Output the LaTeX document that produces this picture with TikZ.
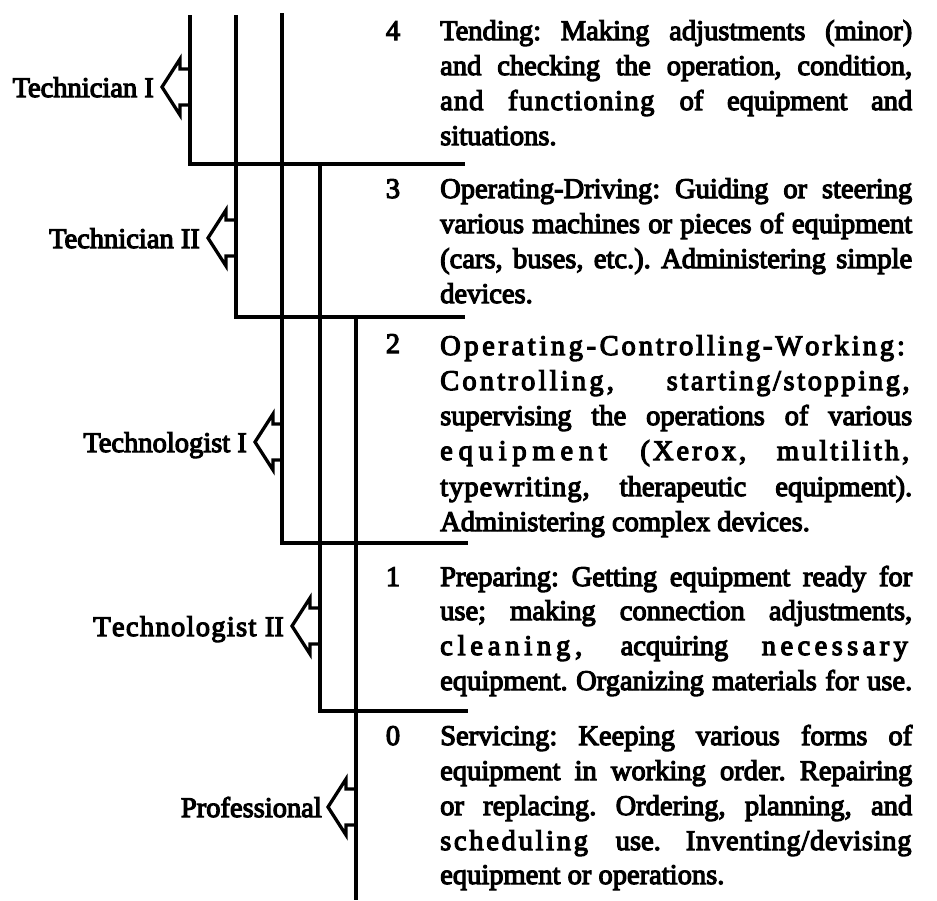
\documentclass[tikz,border=0pt]{standalone}
\usepackage{fontspec}
\setmainfont{Liberation Serif}[UprightFeatures={FakeBold=4}]
\frenchspacing
\newcommand\jl[1]{\makebox[472pt][s]{#1}}
\makeatletter
\def\ls@loop#1{\ifx#1\relax\else#1\kern\ls@amt\expandafter\ls@loop\fi}
\newcommand\lsp[2]{{\def\ls@amt{#1}\ls@loop#2\relax}}
\makeatother
\tikzset{
  rule/.style={line width=3.3pt, line cap=rect, line join=miter},
  txt/.style={font=\fontsize{28.5pt}{35pt}\selectfont, inner sep=0pt, anchor=base west},
  num/.style={font=\fontsize{28.5pt}{35pt}\selectfont, inner sep=0pt, anchor=base},
  lbl/.style={font=\fontsize{28.5pt}{35pt}\selectfont, inner sep=0pt, anchor=base east},
  pics/rolearrow/.style={code={
    \draw[rule, line cap=butt] (0,-18) -- (-10,-18) -- (-10,-28) -- (-28,0) -- (-10,28) -- (-10,18) -- (0,18);
  }}
}
\begin{document}
\begin{tikzpicture}[x=1pt,y=-1pt]
\useasboundingbox (0,0) rectangle (937,900);
% frame lines
\coordinate (v1t) at (190,17);  \coordinate (v1b) at (190,164); \coordinate (h1e) at (463,164);
\coordinate (v2t) at (236,17);  \coordinate (v2b) at (236,317); \coordinate (h2e) at (463,317);
\coordinate (v3t) at (282,15);  \coordinate (v3b) at (282,543); \coordinate (h3e) at (466,543);
\coordinate (v4t) at (320,164); \coordinate (v4b) at (320,711); \coordinate (h4e) at (466,711);
\coordinate (v5t) at (356,317); \coordinate (v5b) at (356,898);
\draw[rule] (v1t) -- (v1b) -- (h1e);
\draw[rule] (v2t) -- (v2b) -- (h2e);
\draw[rule] (v3t) -- (v3b) -- (h3e);
\draw[rule] (v4t) -- (v4b) -- (h4e);
\draw[rule] (v5t) -- (v5b);
% role arrows and labels
\pic at (190,87) {rolearrow};
\node[lbl] (techI) at (154,97) {Technician I};
\pic at (236,238) {rolearrow};
\node[lbl] (techII) at (200,248) {Technician II};
\pic at (283,442) {rolearrow};
\node[lbl] (tlogI) at (247,452) {Technologist I};
\pic at (320,626) {rolearrow};
\node[lbl] (tlogII) at (284,636) {\lsp{1.3pt}{Technologist} II};
\pic at (356,807) {rolearrow};
\node[lbl] (prof) at (322,817) {Professional};
% numbers
\node[num] (n4) at (393,40) {4};
\node[num] (n3) at (393,198) {3};
\node[num] (n2) at (393,353) {2};
\node[num] (n1) at (393,586) {1};
\node[num] (n0) at (393,745) {0};
% item 4
\node[txt] (a1) at (440,40)  {\jl{Tending: Making adjustments (minor)}};
\node[txt] (a2) at (440,75)  {\jl{and checking the operation, condition,}};
\node[txt] (a3) at (440,110) {\jl{\lsp{1pt}{and} \lsp{1.5pt}{functioning} of equipment and}};
\node[txt] (a4) at (440,145) {situations.};
% item 3
\node[txt] (b1) at (440,198) {\jl{Operating-Driving: Guiding or steering}};
\node[txt] (b2) at (440,233) {\jl{various machines or pieces of equipment}};
\node[txt] (b3) at (440,268) {\jl{(cars, buses, etc.). Administering simple}};
\node[txt] (b4) at (440,303) {devices.};
% item 2
\node[txt] (c1) at (440,355) {\jl{\lsp{3.6pt}{Operating-}\lsp{2.9pt}{Controlling-Working:}\hss}};
\node[txt] (c2) at (440,390) {\jl{\lsp{3.2pt}{Controlling,} \lsp{2.6pt}{starting/stopping,}}};
\node[txt] (c3) at (440,425) {\jl{supervising the operations of various}};
\node[txt] (c4) at (440,460) {\jl{\lsp{5.8pt}{equipment} \lsp{3pt}{(Xerox,} \lsp{3pt}{multilith,}}};
\node[txt] (c5) at (440,496) {\jl{\lsp{1pt}{typewriting,} therapeutic equipment).}};
\node[txt] (c6) at (440,531) {Administering complex devices.};
% item 1
\node[txt] (d1) at (440,586) {\jl{Preparing: Getting equipment ready for}};
\node[txt] (d2) at (440,620) {\jl{use; making connection adjustments,}};
\node[txt] (d3) at (440,655) {\jl{\lsp{4.8pt}{cleaning,} acquiring \lsp{4.4pt}{necessary}}};
\node[txt] (d4) at (440,690) {\jl{equipment. Organizing materials for use.}};
% item 0
\node[txt] (e1) at (440,745) {\jl{Servicing: Keeping various forms of}};
\node[txt] (e2) at (440,780) {\jl{equipment in working order. Repairing}};
\node[txt] (e3) at (440,815) {\jl{or replacing. Ordering, planning, and}};
\node[txt] (e4) at (440,850) {\jl{\lsp{2.7pt}{scheduling} use. \lsp{0.7pt}{Inventing/devising}}};
\node[txt] (e5) at (440,884) {equipment or operations.};
\end{tikzpicture}
\end{document}
